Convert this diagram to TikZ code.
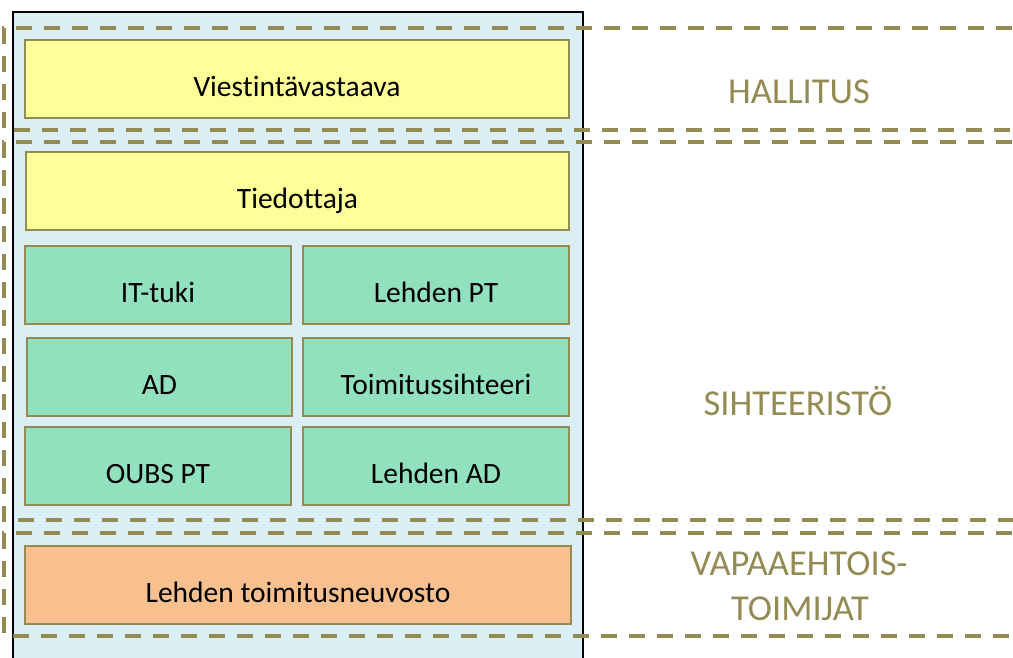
\documentclass[tikz,border=0pt]{standalone}
\usepackage{fontspec}
\setmainfont[Ligatures=NoCommon]{Carlito}
\definecolor{bgblue}{HTML}{DAEEF3}
\definecolor{boxyellow}{HTML}{FFFF99}
\definecolor{boxgreen}{HTML}{91E0BE}
\definecolor{boxorange}{HTML}{F8BF8F}
\definecolor{olive}{HTML}{948A54}
\begin{document}
\begin{tikzpicture}[x=1pt,y=-1pt,
  rolebox/.style={draw=olive, line width=1.5pt, minimum height=78pt, inner sep=0pt,
    text height=35pt, text depth=0pt, font=\fontsize{29.5}{34}\selectfont},
  wide/.style={rolebox, minimum width=544pt},
  half/.style={rolebox, minimum width=266pt},
  yel/.style={fill=boxyellow},
  grn/.style={fill=boxgreen},
  org/.style={fill=boxorange},
  group/.style={draw=olive, line width=4pt, dash pattern=on 16pt off 12pt},
  grouplabel/.style={anchor=base, text=olive, font=\fontsize{36.5}{42}\selectfont, inner sep=0pt}
]
\useasboundingbox (0,0) rectangle (1013,657);
\clip (0,0) rectangle (1013,657);
% background panel
\draw[fill=bgblue, draw=black, line width=1.5pt] (13,12) rectangle (583,680);
% role boxes
\node[wide, yel] (viest) at (297,79) {Viestintävastaava};
\node[wide, yel, minimum width=543pt] (tied) at (297.5,191) {Tiedottaja};
\node[half, grn] (ittuki) at (158,285) {IT-tuki};
\node[half, grn] (lpt) at (436,285) {Lehden PT};
\node[half, grn, minimum width=265pt] (ad) at (159.5,377) {AD};
\node[half, grn] (tsiht) at (436,377) {Toimitussihteeri};
\node[half, grn] (oubs) at (158,466) {OUBS PT};
\node[half, grn] (lad) at (436,466) {Lehden AD};
\node[wide, org, minimum width=546pt] (neuv) at (298,585) {Lehden toimitusneuvosto};
% group frames (open to the right)
\coordinate (h1) at (1040,28);  \coordinate (h2) at (4,28);
\coordinate (h3) at (4,130);    \coordinate (h4) at (1040,130);
\draw[group] (h1) -- (h2) -- (h3) -- (h4);
\coordinate (s1) at (1040,142); \coordinate (s2) at (4,142);
\coordinate (s3) at (4,520);    \coordinate (s4) at (1040,520);
\draw[group] (s1) -- (s2) -- (s3) -- (s4);
\coordinate (v1) at (1040,533); \coordinate (v2) at (4,533);
\coordinate (v3) at (4,636);    \coordinate (v4) at (1040,636);
\draw[group] (v1) -- (v2) -- (v3) -- (v4);
% group labels
\node[grouplabel] (hall) at (799,103) {HALLITUS};
\node[grouplabel] (siht) at (798,415) {SIHTEERISTÖ};
\node[grouplabel] (vapaa1) at (799,575) {VAPAAEHTOIS-};
\node[grouplabel] (vapaa2) at (800,620) {TOIMIJAT};
\end{tikzpicture}
\end{document}
